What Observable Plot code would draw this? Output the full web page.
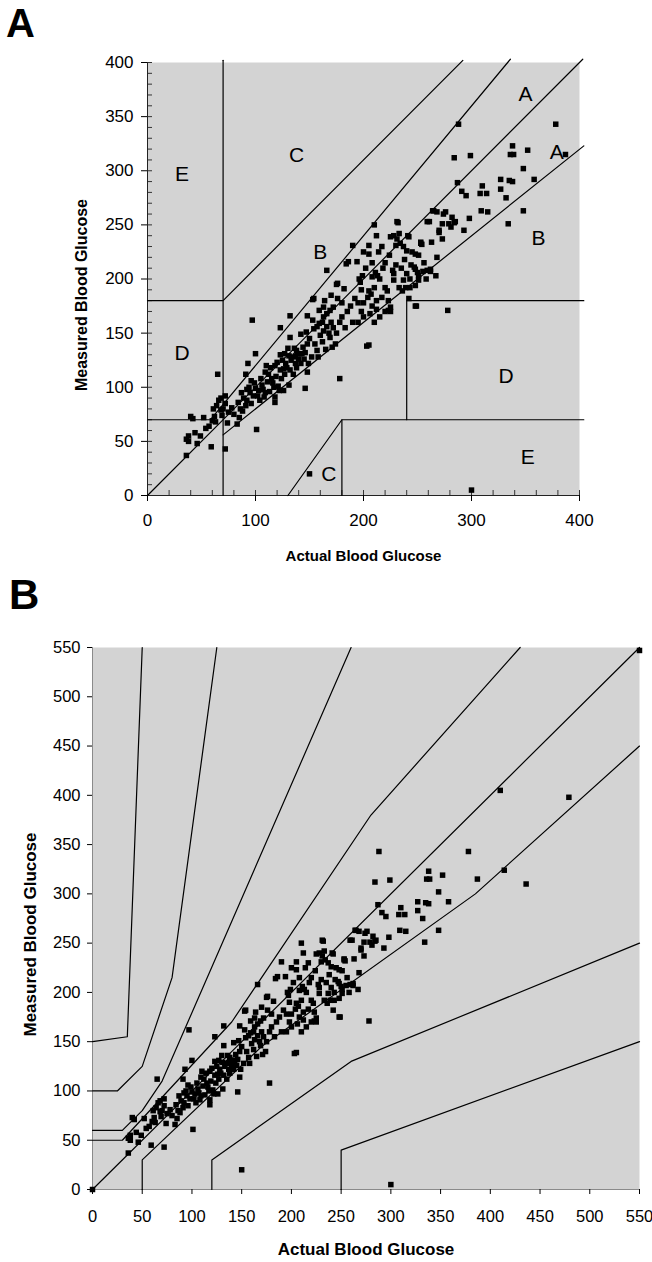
<!DOCTYPE html>
<html><head><meta charset="utf-8">
<script src="https://cdn.jsdelivr.net/npm/d3@7"></script>
<script src="https://cdn.jsdelivr.net/npm/@observablehq/plot@0.6"></script>
<style>
html,body{margin:0;padding:0;background:#fff;}
#wrap{position:relative;width:652px;height:1262px;overflow:hidden;font-family:"Liberation Sans",Arial,sans-serif;}
.panel{position:absolute;left:0;}
.tag{position:absolute;font-weight:bold;line-height:1;color:#000;}
</style></head><body>
<div id="wrap">
  <div class="panel" id="pa" style="top:0px"></div>
  <div class="panel" id="pb" style="top:560px"></div>
  <div class="tag" style="left:6px;top:3px;font-size:40px">A</div>
  <div class="tag" style="left:9px;top:574px;font-size:42px">B</div>
</div>
<script>
// ---------- data ----------
// paired readings: [actual blood glucose, measured blood glucose]
const readings = [
 [36,37],[38,50],[38,55],[36,52],[40,73],[42,71],[44,58],[46,48],[49,55],[52,72],[54,62],[59,45],[60,69],[63,68],[61,80],[64,83],[66,88],[68,79],[72,85],[72,43],[72,92],[65,112],[74,67],[57,64],[62,73],[69,74],[75,77],[78,81],[70,80],[68,90],
 [83,66],[85,72],[88,78],[91,83],[92,88],[95,95],[100,99],[98,92],[91,112],[93,122],[100,131],[101,61],[103,97],[106,102],[108,91],[109,95],[111,105],[112,112],[115,108],[117,100],[118,91],[122,97],[109,114],[118,120],[123,116],[120,123],[125,125],[128,122],[132,116],[135,112],[137,122],[139,131],[143,131],[142,122],[118,86],[126,97],[131,102],[146,99],[132,146],[142,149],[148,140],[148,114],[149,122],[97,162],[86,80],[89,90],[94,100],[96,85],[102,92],[104,88],[107,98],[113,96],[116,104],[119,110],[121,101],[124,108],[127,112],[129,118],[133,125],[135,128],[127,131],[123,130],[114,118],[110,120],[105,108],[99,104],[96,106],[84,86],[80,75],[87,95],[92,98],[126,117],[131,129],[138,118],[140,126],[145,126],[144,137],[136,136],[130,136],
 [154,154],[159,159],[163,152],[166,156],[169,146],[171,137],[162,142],[157,134],[123,155],[138,134],[141,131],[137,129],[154,182],[157,156],[162,160],[163,165],[166,168],[169,171],[172,174],[159,171],[163,174],[166,208],[182,191],[186,216],[194,216],[190,231],[196,200],[199,203],[197,197],[178,108],[150,20],[150,145],[155,140],[160,148],[165,135],[170,160],[175,150],[178,160],[180,165],[174,140],[183,155],[185,170],[188,175],[190,160],[192,182],[195,178],[198,170],[176,182],[180,178],[172,155],[168,150],[152,128],[146,132],[158,128],[147,151],[153,162],[164,180],[170,185],[148,166],[132,166],[153,181],[184,214],[176,196],[203,138],[175,195],
 [200,225],[205,223],[205,231],[210,250],[214,225],[208,202],[211,206],[213,203],[205,189],[207,186],[210,192],[200,178],[204,183],[208,175],[212,180],[217,183],[220,192],[222,189],[223,180],[225,174],[228,199],[228,205],[227,208],[230,213],[225,239],[228,240],[231,237],[230,231],[234,233],[233,242],[231,253],[240,226],[237,199],[239,192],[236,189],[233,192],[244,213],[247,211],[248,209],[250,206],[251,199],[248,194],[251,203],[242,182],[248,175],[251,222],[253,233],[259,253],[264,263],[270,245],[273,237],[273,251],[279,251],[281,248],[276,262],[282,257],[285,253],[268,220],[267,203],[259,208],[262,209],[278,171],[223,171],[205,139],[225,170],[232,252],[215,200],[218,210],[220,170],[215,165],[210,160],[200,165],[195,160],[206,168],[212,172],[235,210],[240,205],[243,200],[238,218],[245,225],[220,215],[224,222],[217,230],[212,240],[208,215],[202,210],[198,190],[256,215],[258,200],
 [241,240],[253,234],[263,234],[261,253],[265,263],[268,262],[274,260],[284,252],[270,243],[293,245],[298,256],[287,289],[291,281],[295,277],[288,343],[299,314],[284,312],[338,323],[352,319],[336,315],[339,315],[378,343],[387,315],[348,302],[327,292],[335,291],[338,290],[358,292],[327,283],[332,275],[310,286],[308,279],[314,279],[309,263],[315,262],[348,263],[334,251],[300,5],[255,207],[262,207],[254,232],[237,230],[242,239],[248,223],[249,175],[243,192],
 [0,0],[550,547],[410,405],[479,398],[414,324],[436,310]
];

// Panel A (Clarke error grid)
const ticksAX = [0, 100, 200, 300, 400];
const ticksAY = [0, 50, 100, 150, 200, 250, 300, 350, 400];
const minorAX = d3.range(0, 401, 20);
const minorAY = d3.range(0, 401, 10);
const clarkeLines = [
  [[0,0],[403,403]],
  [[0,70],[58.3,70],[336,403]],
  [[70,0],[70,402]],
  [[0,180],[70,180],[292,402]],
  [[70,56],[404,323]],
  [[130,0],[180,70],[404,70]],
  [[180,0],[180,70]],
  [[240,70],[240,180],[404,180]]
];
const clarkeZoneText = ["E","C","A","A","B","B","D","D","E","C"];
const clarkeZoneX = [32,138,350,379,362,160,32,332,352,168];
const clarkeZoneY = [297,314,371,317,238,225,131,110,35,20];

// Panel B (Parkes error grid)
const ticksB = [0,50,100,150,200,250,300,350,400,450,500,550];
const parkesLines = [
  [[0,150],[35,155],[50,550]],
  [[0,100],[25,100],[50,125],[80,215],[125,550]],
  [[0,60],[30,60],[50,80],[70,110],[260,550]],
  [[0,50],[30,50],[140,170],[280,380],[430,550]],
  [[0,0],[550,550]],
  [[50,0],[50,30],[170,145],[385,300],[550,450]],
  [[120,0],[120,30],[260,130],[550,250]],
  [[250,0],[250,40],[550,150]]
];

// ---------- helpers ----------
const rowsOf = lines => lines.flatMap((pts, i) => pts.map(([x, y]) => ({id: i, x, y})));
const pts = readings.map(([actual, measured]) => ({actual, measured}));
function addPattern(svg, id) {
  const defs = d3.select(svg).insert("defs", ":first-child");
  const p = defs.append("pattern").attr("id", id).attr("width", 2).attr("height", 2)
    .attr("patternUnits", "userSpaceOnUse");
  p.append("rect").attr("width", 2).attr("height", 2).attr("fill", "#e2e2e2");
  p.append("rect").attr("width", 1).attr("height", 1).attr("fill", "#a4a4a4");
}
function styleTitles(svg, xSize, ySize, yShift) {
  const s = d3.select(svg);
  s.selectAll('[aria-label="x-axis label"]').attr("font-weight", "bold").attr("font-size", xSize);
  s.selectAll('[aria-label="y-axis label"]').attr("font-weight", "bold").attr("font-size", ySize)
    .each(function () {
      const w = document.createElementNS("http://www.w3.org/2000/svg", "g");
      w.setAttribute("transform", `translate(0,${yShift})`);
      this.parentNode.insertBefore(w, this);
      w.appendChild(this);
    });
}
const font = "'Liberation Sans', Arial, sans-serif";

// ---------- panel A ----------
const WA = 652, HA = 560, mLA = 147, mRA = 73, mTA = 62, mBA = 65;
const plotWA = WA - mLA - mRA, plotHA = HA - mTA - mBA;
const svgA = Plot.plot({
  width: WA, height: HA,
  marginLeft: mLA, marginRight: mRA, marginTop: mTA, marginBottom: mBA,
  x: {domain: [0, 400]},
  y: {domain: [0, 400]},
  style: {fontFamily: font, fontSize: "17px", color: "black", background: "transparent", overflow: "visible"},
  marks: [
    Plot.frame({fill: "url(#stipA)", stroke: "none"}),
    Plot.tickX(minorAX, {stroke: "#333", insetTop: plotHA - 5}),
    Plot.tickY(minorAY, {stroke: "#333", insetRight: plotWA - 5}),
    Plot.ruleX([0], {stroke: "#222"}),
    Plot.ruleY([0], {stroke: "#222"}),
    Plot.axisX(ticksAX, {tickSize: 6, tickPadding: 12, label: "Actual Blood Glucose", labelAnchor: "center", labelArrow: "none", labelOffset: 65}),
    Plot.axisY(ticksAY, {tickSize: 6, tickPadding: 8, label: "Measured Blood Glucose", labelAnchor: "center", labelArrow: "none", labelOffset: 72}),
    Plot.line(rowsOf(clarkeLines), {x: "x", y: "y", z: "id", stroke: "black", strokeWidth: 1.2}),
    Plot.dot(pts.filter(d => d.actual > 0 && d.actual <= 400 && d.measured <= 400),
      {x: "actual", y: "measured", symbol: "square", r: 3.1, fill: "black", stroke: "none"}),
    Plot.text(clarkeZoneText, {x: (d, i) => clarkeZoneX[i], y: (d, i) => clarkeZoneY[i], text: d => d, fontSize: 21, fill: "black"})
  ]
});
addPattern(svgA, "stipA");
styleTitles(svgA, "15px", "16px", 16);
document.getElementById("pa").appendChild(svgA);

// ---------- panel B ----------
const WB = 652, HB = 702, mLB = 92, mRB = 13, mTB = 87, mBB = 73;
const svgB = Plot.plot({
  width: WB, height: HB,
  marginLeft: mLB, marginRight: mRB, marginTop: mTB, marginBottom: mBB,
  x: {domain: [0, 550]},
  y: {domain: [0, 550]},
  style: {fontFamily: font, fontSize: "16.5px", color: "black", background: "transparent", overflow: "visible"},
  marks: [
    Plot.frame({fill: "url(#stipB)", stroke: "none"}),
    Plot.ruleX([0], {stroke: "#8a8a8a"}),
    Plot.ruleY([0], {stroke: "#8a8a8a"}),
    Plot.axisX(ticksB, {tickSize: 5, tickPadding: 16, label: "Actual Blood Glucose", labelAnchor: "center", labelArrow: "none", labelOffset: 65}),
    Plot.axisY(ticksB, {tickSize: 5, tickPadding: 7, label: "Measured Blood Glucose", labelAnchor: "center", labelArrow: "none", labelOffset: 69}),
    Plot.line(rowsOf(parkesLines), {x: "x", y: "y", z: "id", stroke: "black", strokeWidth: 1.2}),
    Plot.dot(pts, {x: "actual", y: "measured", symbol: "square", r: 3.1, fill: "black", stroke: "none"})
  ]
});
addPattern(svgB, "stipB");
styleTitles(svgB, "17px", "17px", 16);
document.getElementById("pb").appendChild(svgB);
</script>
</body></html>
